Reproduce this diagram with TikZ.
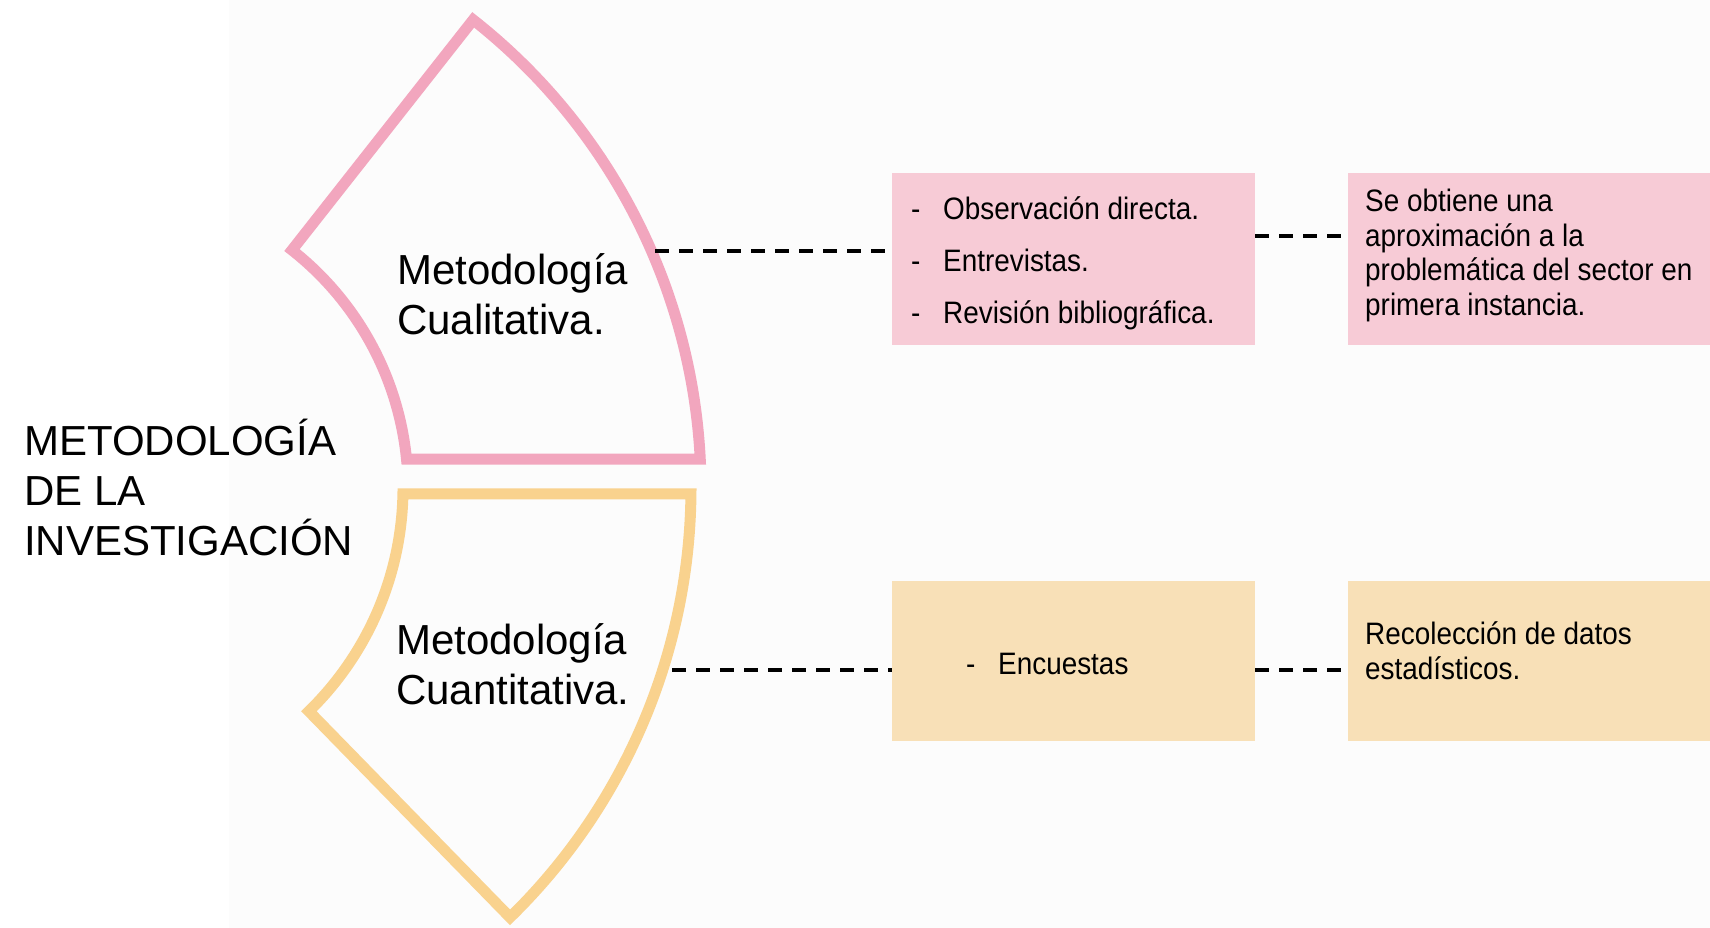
\documentclass[tikz,border=0pt]{standalone}
\usepackage{fontspec}
\setmainfont{Liberation Sans}
\newfontfamily\narrowfont[FakeStretch=0.9]{Liberation Sans}
\usetikzlibrary{calc}
\definecolor{pinkline}{HTML}{F2A6BE}
\definecolor{yelline}{HTML}{F9D28E}
\definecolor{pinkfill}{HTML}{F7CBD6}
\definecolor{yelfill}{HTML}{F8E0B7}
\definecolor{bggray}{HTML}{FCFCFC}
\newcommand{\stk}[1]{\vtop{\lineskiplimit=-100pt\lineskip=0pt\halign{##\hfil\cr#1\crcr}}}
\newcommand{\bul}{\makebox[32pt][l]{-}}
\begin{document}
\begin{tikzpicture}[x=1pt,y=1pt,
  bigtext/.style={font=\fontsize{42}{50}\selectfont, inner sep=0pt, anchor=base west},
  boxtext/.style={font=\narrowfont\fontsize{31}{52}\selectfont, inner sep=0pt, anchor=base west},
  boxtextb/.style={font=\narrowfont\fontsize{31}{34.5}\selectfont, inner sep=0pt, anchor=base west},
  pinkbox/.style={fill=pinkfill, minimum width=363pt, minimum height=172pt, inner sep=0pt},
  yelbox/.style={fill=yelfill, minimum width=363pt, minimum height=160pt, inner sep=0pt},
  conn/.style={black, line width=3.5pt, dash pattern=on 14pt off 10pt},
  pinkshape/.style={draw=pinkline, line width=11pt, line join=miter},
  yelshape/.style={draw=yelline, line width=11pt, line join=miter}
]
\useasboundingbox (0,0) rectangle (1710,928);
\fill[white] (0,0) rectangle (1710,928);
\fill[bggray] (229,0) rectangle (1710,928);

% pink ring segment
\coordinate (pc) at (104,439);
\draw[pinkshape] ($(pc)+(5.66:304)$) -- ($(pc)+(2.88:597)$)
  arc[start angle=2.88,end angle=51.8,radius=597]
  -- ($(pc)+(51.8:304)$)
  arc[start angle=51.8,end angle=5.66,radius=304] -- cycle;

% yellow ring segment
\coordinate (yc) at (91,440);
\draw[yelshape] ($(yc)+(-1.1:312)$) -- ($(yc)+(-0.57:600)$)
  arc[start angle=-0.57,end angle=-45.7,radius=600]
  -- ($(yc)+(-45.7:312)$)
  arc[start angle=-45.7,end angle=-1.1,radius=312] -- cycle;

% labels
\node[bigtext] (title) at (24,472) {\stk{METODOLOGÍA\cr DE LA\cr INVESTIGACIÓN}};
\node[bigtext] (plabel) at (397,643) {\stk{Metodología\cr Cualitativa.}};
\node[bigtext] (ylabel) at (396,273) {\stk{Metodología\cr Cuantitativa.}};

% boxes
\node[pinkbox] (pb1) at (1073.5,669) {};
\node[pinkbox] (pb2) at (1529,669) {};
\node[yelbox] (yb1) at (1073.5,267) {};
\node[yelbox] (yb2) at (1529,267) {};

\node[boxtext] (pt1) at (911,708) {\stk{\bul Observación directa.\cr \bul Entrevistas.\cr \bul Revisión bibliográfica.}};
\node[boxtextb] (pt2) at (1365,716) {\stk{Se obtiene una\cr aproximación a la\cr problemática del sector en\cr primera instancia.}};
\node[boxtext] (yt1) at (966,253) {\bul Encuestas};
\node[boxtextb] (yt2) at (1365,283) {\stk{Recolección de datos\cr estadísticos.}};

% connectors
\coordinate (pa) at (655,677);
\coordinate (ya) at (672,258);
\draw[conn] (pa) -- (pa -| pb1.west);
\draw[conn] ([yshift=23pt]pb1.east) -- ([yshift=23pt]pb2.west);
\draw[conn] (ya) -- (ya -| yb1.west);
\draw[conn] ([yshift=-9pt]yb1.east) -- ([yshift=-9pt]yb2.west);
\end{tikzpicture}
\end{document}
